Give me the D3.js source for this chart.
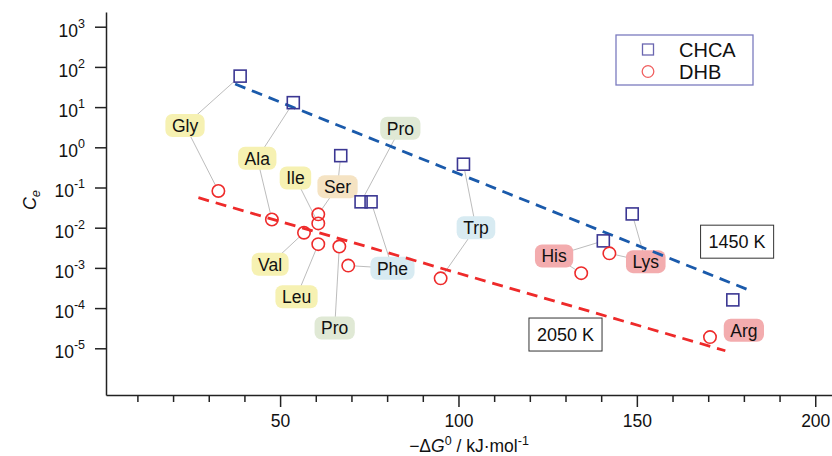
<!DOCTYPE html>
<html><head><meta charset="utf-8">
<script src="https://cdn.jsdelivr.net/npm/d3@7"></script>
<style>body{margin:0;background:#fff} text{font-family:"Liberation Sans",Arial,sans-serif;fill:#111}</style>
</head><body><svg id="c" width="832" height="456"></svg>
<script>
// ---- data ----
const chcaNames = ["Gly","Ala","Ser","Pro","Phe","Trp","His","Lys","Arg"];
const chcaDG    = [38.8, 53.7, 67.0, 72.7, 75.5, 101.4, 140.6, 148.7, 176.9];
const chcaCe    = [59, 12.9, 0.62, 0.044, 0.044, 0.38, 0.0047, 0.022, 1.6e-4];

const dhbNames = ["Gly","Ala","Ile","Ser","Val","Leu","Pro","Phe","Trp","His","Lys","Arg"];
const dhbDG    = [32.7, 47.7, 60.7, 60.7, 56.7, 60.7, 66.6, 69.1, 95.0, 134.4, 142.3, 170.5];
const dhbCe    = [0.082, 0.016, 0.0128, 0.0215, 0.0075, 0.0039, 0.0034, 0.00114, 5.5e-4, 7.4e-4, 0.0023, 1.9e-5];

const fitNames = ["1450 K","2050 K"];
const fitDG    = [[37.4, 181.8],[27.1, 174.8]];
const fitCe    = [[37.6, 2.71e-4],[0.0557, 8.7e-6]];
const fitLabelDG = [178.1, 130.0];
const fitLabelCe = [4.49e-3, 2.2e-5];

const labelText = ["Gly","Ala","Ile","Ser","Pro","Val","Leu","Pro","Phe","Trp","His","Lys","Arg"];
const labelDG   = [23.35, 43.6, 54.3, 66.1, 83.7, 47.2, 54.6, 65.3, 81.5, 104.9, 126.8, 152.5, 180.0];
const labelCe   = [3.49, 0.532, 0.172, 0.105, 2.97, 1.23e-3, 1.92e-4, 3.2e-5, 9.8e-4, 0.01, 1.98e-3, 1.43e-3, 2.8e-5];
const labelGroup= ["y","y","y","s","g","y","y","g","b","b","p","p","p"];
const labelChca = [0, 1, -1, 2, 3, -1, -1, -1, 4, 5, 6, 7, -1];
const labelDhb  = [0, 1, 2, 3, -1, 4, 5, 6, 7, 8, 9, 10, -1];

const xMinorTicks = d3.range(10, 201, 10);
const xMajorTicks = [50, 100, 150, 200];
const yTickExp = [-5,-4,-3,-2,-1,0,1,2,3];

// ---- styles ----
const groupFill = {y:"#f6f1b2", s:"#f5e3c3", g:"#e0e9d5", b:"#d8ebf2", p:"#f3acae"};
const sqColor = "#3b3793", ciColor = "#ee2b2b";
const fitColor = ["#1a5aab", "#ee2a2a"];

const svg = d3.select("#c");
const x = d3.scaleLinear().domain([1.2, 204.7]).range([106, 832]);
const y = d3.scaleLog().domain([Math.pow(10,-6.162), Math.pow(10,3.366)]).range([395, 12]);

// axes
const xa = svg.append("g").attr("transform","translate(0,395)");
xa.call(d3.axisBottom(x).tickValues(xMinorTicks).tickSize(7).tickSizeOuter(0).tickFormat(()=>""));
xa.selectAll(".tick").filter(d=>xMajorTicks.includes(d)).select("line").attr("y2", 12);
xa.selectAll(".tick").filter(d=>xMajorTicks.includes(d)).append("text")
  .attr("y", 31.5).attr("text-anchor","middle").attr("font-size",17.5).attr("fill","#111").text(d=>d);
xa.selectAll("path,line").attr("stroke","#222").attr("stroke-width",1.5);

const ya = svg.append("g").attr("transform","translate(106,0)");
ya.call(d3.axisLeft(y).tickValues(yTickExp.map(e=>Math.pow(10,e))).tickSize(11).tickSizeOuter(0).tickFormat(()=>""));
ya.selectAll("path,line").attr("stroke","#222").attr("stroke-width",1.5);
ya.selectAll(".tick").each(function(d){
  const e = Math.round(Math.log10(d));
  const t = d3.select(this).append("text").attr("x",-21).attr("y",9.3).attr("text-anchor","end")
    .attr("font-size",17.5).attr("fill","#111");
  t.append("tspan").text("10");
  t.append("tspan").attr("dy",-9).attr("font-size",12.5).text(e<0 ? "-"+(-e) : String(e));
});

// axis titles
const xt = svg.append("text").attr("x",469).attr("y",452).attr("text-anchor","middle").attr("font-size",17.5);
xt.append("tspan").text("\u2212\u0394");
xt.append("tspan").attr("font-style","italic").text("G");
xt.append("tspan").attr("dy",-7).attr("font-size",12.5).text("0");
xt.append("tspan").attr("dy",7).text(" / kJ\u00b7mol");
xt.append("tspan").attr("dy",-7).attr("font-size",12.5).text("-1");

const yt = svg.append("text").attr("transform","translate(36,200) rotate(-90)").attr("text-anchor","middle")
  .attr("font-size",18).attr("font-style","italic");
yt.append("tspan").text("C");
yt.append("tspan").attr("dy",4).attr("font-size",13).text("e");

// connectors
function shorten(x0,y0,x1,y1,kind){
  const dx=x0-x1, dy=y0-y1, len=Math.hypot(dx,dy);
  let t;
  if(kind==="sq") t = 6/Math.max(Math.abs(dx),Math.abs(dy));
  else t = 6/len;
  return [x1+dx*t, y1+dy*t];
}
const conn = svg.append("g").attr("stroke","#b4b4b4").attr("stroke-width",0.9);
labelText.forEach((t,i)=>{
  const lx=x(labelDG[i]), ly=y(labelCe[i]);
  if(labelChca[i]>=0){
    const j=labelChca[i], px=x(chcaDG[j]), py=y(chcaCe[j]);
    const [ex,ey]=shorten(lx,ly,px,py,"sq");
    conn.append("line").attr("x1",lx).attr("y1",ly).attr("x2",ex).attr("y2",ey);
  }
  if(labelDhb[i]>=0){
    const j=labelDhb[i], px=x(dhbDG[j]), py=y(dhbCe[j]);
    const [ex,ey]=shorten(lx,ly,px,py,"ci");
    conn.append("line").attr("x1",lx).attr("y1",ly).attr("x2",ex).attr("y2",ey);
  }
});

// labels
const lab = svg.append("g");
labelText.forEach((t,i)=>{
  const g = lab.append("g").attr("transform",`translate(${x(labelDG[i])},${y(labelCe[i])})`);
  const r = g.append("rect");
  const tx = g.append("text").attr("text-anchor","middle").attr("y",6.3).attr("font-size",17.5).text(t);
  const w = tx.node().getComputedTextLength()+13;
  r.attr("x",-w/2).attr("y",-11.5).attr("width",w).attr("height",23).attr("rx",7).attr("fill",groupFill[labelGroup[i]]);
});

// fit lines
fitNames.forEach((n,k)=>{
  svg.append("line").attr("x1",x(fitDG[k][0])).attr("y1",y(fitCe[k][0]))
    .attr("x2",x(fitDG[k][1])).attr("y2",y(fitCe[k][1]))
    .attr("stroke",fitColor[k]).attr("stroke-width",2.8).attr("stroke-dasharray","11,7");
  const g = svg.append("g").attr("transform",`translate(${x(fitLabelDG[k])},${y(fitLabelCe[k])})`);
  const tx = g.append("text").attr("text-anchor","middle").attr("y",6.5).attr("font-size",18).text(n);
  const w = tx.node().getComputedTextLength()+16;
  g.insert("rect","text").attr("x",-w/2).attr("y",-16.5).attr("width",w).attr("height",33)
    .attr("fill","#fff").attr("stroke","#333").attr("stroke-width",1);
});

// markers
svg.append("g").selectAll("rect").data(chcaDG).join("rect")
  .attr("x",(d)=>x(d)-6).attr("y",(d,i)=>y(chcaCe[i])-6).attr("width",12).attr("height",12)
  .attr("fill","none").attr("stroke",sqColor).attr("stroke-width",1.6);
svg.append("g").selectAll("circle").data(dhbDG).join("circle")
  .attr("cx",(d)=>x(d)).attr("cy",(d,i)=>y(dhbCe[i])).attr("r",6.2)
  .attr("fill","none").attr("stroke",ciColor).attr("stroke-width",1.6);

// legend
const lg = svg.append("g");
lg.append("rect").attr("x",616).attr("y",35).attr("width",137).attr("height",50)
  .attr("fill","#fff").attr("stroke","#7b7bbf").attr("stroke-width",1.3);
lg.append("rect").attr("x",642.5).attr("y",44).attr("width",11).attr("height",11)
  .attr("fill","none").attr("stroke","#6a66b0").attr("stroke-width",1.3);
lg.append("circle").attr("cx",648).attr("cy",71.5).attr("r",5.8)
  .attr("fill","none").attr("stroke","#f06060").attr("stroke-width",1.3);
lg.append("text").attr("x",679).attr("y",56.5).attr("font-size",20).text("CHCA");
lg.append("text").attr("x",679).attr("y",78.5).attr("font-size",20).text("DHB");
</script></body></html>
